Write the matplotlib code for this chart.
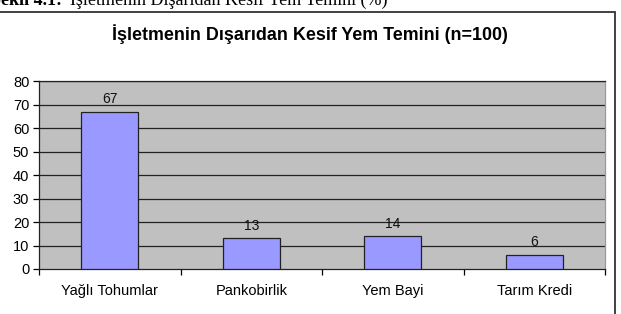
import matplotlib
matplotlib.use("Agg")
import matplotlib.pyplot as plt
from matplotlib.patches import Rectangle

categories = ["Yağlı Tohumlar", "Pankobirlik", "Yem Bayi", "Tarım Kredi"]
values = [67, 13, 14, 6]
yticks = [0, 10, 20, 30, 40, 50, 60, 70, 80]
title = "İşletmenin Dışarıdan Kesif Yem Temini (n=100)"

plt.rcParams['font.family'] = ['Liberation Sans', 'DejaVu Sans']

W, H = 621, 314
fig = plt.figure(figsize=(W / 100, H / 100), dpi=100)
fig.patch.set_facecolor('white')

# outer chart border (extends off-image at left and bottom)
fig.patches.append(Rectangle((-0.01, -0.05), 615 / W + 0.01, 1 - 12 / H + 0.05,
                             transform=fig.transFigure, fill=False,
                             edgecolor='#333333', linewidth=1.3, zorder=0))

# partially cut caption at top
fig.text(-9 / W, 1 - 5 / H, "Şekil 4.1:", fontsize=13, fontweight='bold',
         family='Liberation Serif', va='baseline', ha='left')
fig.text(70 / W, 1 - 5 / H, "İşletmenin Dışarıdan Kesif Yem Temini (%)", fontsize=13,
         family='Liberation Serif', va='baseline', ha='left')

fig.text(310 / W, 1 - 40 / H, title, fontsize=12.9, fontweight='bold',
         ha='center', va='baseline')

left, right = 39 / W, 605 / W
bottom, top = 1 - 269 / H, 1 - 81 / H
ax = fig.add_axes([left, bottom, right - left, top - bottom])
ax.set_facecolor('#C0C0C0')

x = list(range(len(categories)))
bars = ax.bar(x, values, width=0.4, color='#9999FF', edgecolor='#222222',
              linewidth=0.9, zorder=3)
for xi, v in zip(x, values):
    ax.annotate(str(v), (xi, v), xytext=(0, 4), textcoords='offset points',
                ha='center', va='bottom', fontsize=10, color='#111111', zorder=4)

ax.set_xlim(-0.5, len(categories) - 0.5)
ax.set_ylim(0, 80)
ax.set_yticks(yticks)
ax.set_yticklabels([str(t) for t in yticks], fontsize=10.5)
for t in yticks[1:]:
    ax.axhline(t, color='#222222', linewidth=0.9, zorder=2)

ax.set_xticks([i - 0.5 for i in range(len(categories) + 1)])
ax.set_xticklabels([''] * (len(categories) + 1))
ax.set_xticks(x, minor=True)
ax.set_xticklabels(categories, minor=True, fontsize=10.5)
ax.tick_params(axis='x', which='minor', length=0, pad=11)
ax.tick_params(axis='x', which='major', length=4, direction='out', width=0.9)
ax.tick_params(axis='y', length=4, direction='out', width=0.9, pad=3)

ax.spines['left'].set_color('#222222')
ax.spines['bottom'].set_color('#222222')
ax.spines['top'].set_color('#222222')
ax.spines['right'].set_color('#999999')
for s in ax.spines.values():
    s.set_linewidth(0.9)

fig.savefig('out.png', dpi=100)
